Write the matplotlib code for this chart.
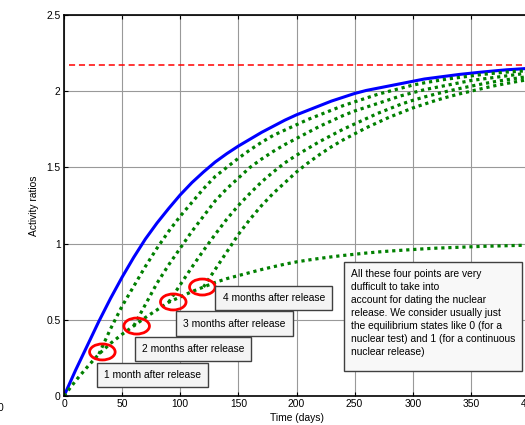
import numpy as np
import matplotlib
matplotlib.use('Agg')
import matplotlib.pyplot as plt
from matplotlib.patches import Ellipse, Rectangle

plt.rcParams['font.family'] = ['Liberation Sans', 'DejaVu Sans']
plt.rcParams['font.size'] = 7.4

# time axis (days) for the full curves
days = np.arange(0, 401, 10)

# instantaneous release (blue)
single_release = [0, 0.17, 0.33, 0.49, 0.64, 0.78, 0.91, 1.03, 1.135, 1.23, 1.32,
                  1.40, 1.47, 1.535, 1.59, 1.64, 1.685, 1.73, 1.77, 1.81, 1.845,
                  1.875, 1.905, 1.935, 1.96, 1.985, 2.005, 2.02, 2.035, 2.05, 2.065,
                  2.08, 2.09, 2.10, 2.11, 2.118, 2.126, 2.133, 2.14, 2.145, 2.15]

# continuous release (lower green)
continuous = [0, 0.10, 0.19, 0.275, 0.345, 0.405, 0.46, 0.515, 0.565, 0.615, 0.65,
              0.685, 0.715, 0.745, 0.77, 0.79, 0.81, 0.83, 0.848, 0.865, 0.88,
              0.892, 0.903, 0.913, 0.922, 0.93, 0.938, 0.945, 0.951, 0.956, 0.961,
              0.966, 0.97, 0.973, 0.976, 0.979, 0.982, 0.984, 0.986, 0.988, 0.99]

# release stopped after 1, 2, 3, 4 months
stop_days = [30, 60, 90, 120]
after_1m = [0.275, 0.44, 0.59, 0.72, 0.85, 0.97, 1.08, 1.18, 1.27, 1.36, 1.44, 1.50,
            1.56, 1.615, 1.665, 1.71, 1.745, 1.78, 1.815, 1.845, 1.875, 1.905, 1.93,
            1.955, 1.98, 2.0, 2.02, 2.04, 2.055, 2.068, 2.08, 2.09, 2.10, 2.11,
            2.118, 2.125, 2.13, 2.135]
after_2m = [0.46, 0.60, 0.74, 0.86, 0.97, 1.08, 1.18, 1.28, 1.36, 1.43, 1.50, 1.555,
            1.605, 1.65, 1.69, 1.73, 1.77, 1.805, 1.84, 1.87, 1.895, 1.92, 1.945,
            1.97, 1.99, 2.01, 2.025, 2.04, 2.055, 2.07, 2.08, 2.09, 2.10, 2.11, 2.12]
after_3m = [0.615, 0.73, 0.845, 0.955, 1.06, 1.16, 1.25, 1.33, 1.405, 1.47, 1.53,
            1.58, 1.625, 1.67, 1.71, 1.75, 1.785, 1.82, 1.855, 1.885, 1.915, 1.94,
            1.962, 1.982, 2.0, 2.017, 2.033, 2.048, 2.062, 2.074, 2.086, 2.097]
after_4m = [0.715, 0.83, 0.945, 1.06, 1.16, 1.25, 1.33, 1.40, 1.47, 1.53, 1.585,
            1.635, 1.68, 1.72, 1.76, 1.795, 1.83, 1.86, 1.89, 1.915, 1.94, 1.962,
            1.982, 2.0, 2.018, 2.035, 2.05, 2.064, 2.077]
branches = [after_1m, after_2m, after_3m, after_4m]

equilibrium = 2.175

# red circles around the branch points
circle_days = [33, 62.5, 94, 119]
circle_vals = [0.289, 0.459, 0.617, 0.715]
circle_labels = ['1 month after release', '2 months after release',
                 '3 months after release', '4 months after release']
label_days = [29, 61.5, 97, 131]
label_vals = [0.061, 0.235, 0.4, 0.57]

note = ('All these four points are very\n'
        'dufficult to take into\n'
        'account for dating the nuclear\n'
        'release. We consider usually just\n'
        'the equilibrium states like 0 (for a\n'
        'nuclear test) and 1 (for a continuous\n'
        'nuclear release)')

fig = plt.figure(figsize=(5.25, 4.25), dpi=100)
ax = fig.add_axes([64 / 525, 29 / 425, 465 / 525, 381 / 425])

ax.plot(days, single_release, color='#0000ff', lw=2.2)
dots = (0, (1, 1.2))
ax.plot(days, continuous, color='#008000', lw=2.3, ls=dots)
for d0, vals in zip(stop_days, branches):
    t = np.arange(d0, 401, 10)
    ax.plot(t, vals, color='#008000', lw=2.3, ls=dots)
ax.plot([4, 400], [equilibrium, equilibrium], color='#ff0000', lw=1.1, ls=(0, (4, 2.5)))

for x, y in zip(circle_days, circle_vals):
    ax.add_patch(Ellipse((x, y), 22, 0.105, fill=False, ec='#ff0000', lw=2, zorder=5))

box = dict(boxstyle='square,pad=0.7', fc='#f4f4f4', ec='0.25', lw=1)
for x, y, s in zip(label_days, label_vals, circle_labels):
    ax.text(x + 5.5, y + 0.075, s, ha='left', va='center', bbox=box, zorder=6)

# explanation box
ax.add_patch(Rectangle((241, 0.164), 153, 0.715, fc='#f8f8f8', ec='0.25', lw=1, zorder=6))
ax.text(247, 0.835, note, ha='left', va='top', linespacing=1.38, zorder=7)

ax.set_xlim(0, 400)
ax.set_ylim(0, 2.5)
ax.set_xticks(np.arange(0, 401, 50))
ax.set_yticks([0, 0.5, 1, 1.5, 2, 2.5])
ax.set_yticklabels(['0', '0.5', '1', '1.5', '2', '2.5'])
ax.grid(True, color='0.6', lw=0.8)
ax.tick_params(direction='in', top=True, right=True, length=3, width=0.8, pad=2.5)
for sp in ax.spines.values():
    sp.set_linewidth(1.2)
ax.set_xlabel('Time (days)', labelpad=2.5)
ax.set_ylabel('Activity ratios', labelpad=5)

fig.text(-0.004, 0.032, '0', fontsize=7.4)

fig.savefig('out.png', dpi=100)
